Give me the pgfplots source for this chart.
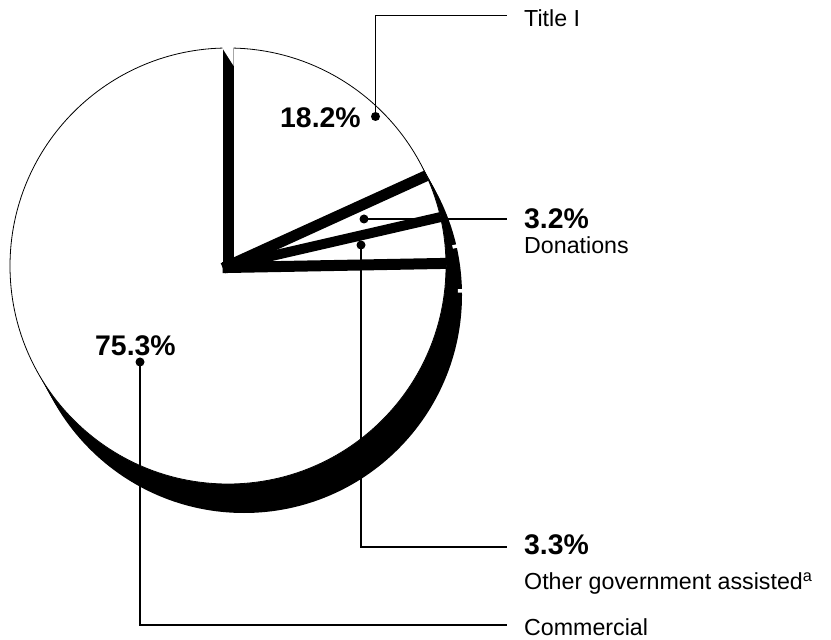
\documentclass[border=0pt]{standalone}
\usepackage{pgfplots}
\usepackage{pgfplotstable}
\pgfplotsset{compat=1.18}
\usepackage{fontspec}
\setmainfont{Liberation Sans}

% shares of the pie, clockwise from 12 o'clock
\pgfplotstableread[col sep=comma]{
label,value
Title I,18.2
Donations,3.2
Other government assisted,3.3
Commercial,75.3
}\piedata

\begin{document}
\begin{tikzpicture}
\pgfplotstablegetelem{0}{value}\of\piedata \let\vA\pgfplotsretval
\pgfplotstablegetelem{1}{value}\of\piedata \let\vB\pgfplotsretval
\pgfplotstablegetelem{2}{value}\of\piedata \let\vC\pgfplotsretval
\pgfplotstablegetelem{3}{value}\of\piedata \let\vD\pgfplotsretval
% slice boundaries in degrees
\pgfmathsetmacro\bA{90}
\pgfmathsetmacro\bB{\bA-3.6*\vA}
\pgfmathsetmacro\bC{\bB-3.6*\vB}
\pgfmathsetmacro\bD{\bC-3.6*\vC}
\def\cx{228}\def\cy{266}\def\rr{218}
\def\sx{244}\def\sy{295}% centre of the bottom face
\begin{axis}[
    scale only axis,
    width=831bp, height=640bp,
    xmin=0, xmax=831, ymin=0, ymax=640,
    y dir=reverse,
    hide axis,
    clip=false,
]
  \path (axis cs:0,0) rectangle (axis cs:831,640);
  % depth of the pie
  \pgfplotsinvokeforeach{0.2,0.4,0.6,0.8,1}{
    \fill[black] (axis cs:{\cx+16*#1},{\cy+29*#1}) circle[radius=\rr bp];
  }
  % small steps between the slice walls
  \draw[white, line width=3.5bp] (axis cs:{\sx+214*cos(\bC)},{\sy-214*sin(\bC)}) -- (axis cs:{\sx+232*cos(\bC)},{\sy-232*sin(\bC)});
  \draw[white, line width=3.5bp] (axis cs:{\sx+214*cos(\bD)},{\sy-214*sin(\bD)}) -- (axis cs:{\sx+232*cos(\bD)},{\sy-232*sin(\bD)});
  \fill[white] (axis cs:\cx,\cy) circle[radius=\rr bp];
  % slice separators
  \begin{scope}
    \clip (axis cs:\cx,\cy) circle[radius=\rr bp];
    \draw[line width=11bp, line cap=rect] (axis cs:\cx,\cy) -- (axis cs:{\cx+260*cos(\bA)},{\cy-260*sin(\bA)});
    \draw[line width=11bp, line cap=rect] (axis cs:\cx,\cy) -- (axis cs:{\cx+260*cos(\bB)},{\cy-260*sin(\bB)});
    \draw[line width=10bp, line cap=rect] (axis cs:\cx,\cy) -- (axis cs:{\cx+260*cos(\bC)},{\cy-260*sin(\bC)});
    \draw[line width=11bp, line cap=rect] (axis cs:\cx,{\cy+1.5}) -- (axis cs:{\cx+260*cos(\bD)},{\cy+1.5-260*sin(\bD)});
  \end{scope}
  \draw[line width=0.8bp] (axis cs:\cx,\cy) circle[radius=\rr bp];
  \fill[white] (axis cs:222.3,48) -- (axis cs:222.3,40) -- (axis cs:233.7,40) -- (axis cs:233.7,66) -- cycle;

  % leaders
  \draw[line width=1.1bp] (axis cs:375.5,116.5) -- (axis cs:375.5,15.5) -- (axis cs:507,15.5);
  \fill (axis cs:375.5,116.5) circle[radius=4.5bp];
  \draw[line width=1.1bp] (axis cs:364,219) -- (axis cs:507,219);
  \fill (axis cs:364,219) circle[radius=4.5bp];
  \draw[line width=1.1bp] (axis cs:361,245) -- (axis cs:361,547) -- (axis cs:507,547);
  \fill (axis cs:361,245) circle[radius=4.5bp];
  \draw[line width=1.1bp] (axis cs:140,362) -- (axis cs:140,625) -- (axis cs:507,625);
  \fill (axis cs:140,362) circle[radius=4.5bp];

  % labels
  \node[anchor=base west, inner sep=0, font=\fontsize{28.5}{30}\selectfont\bfseries] at (axis cs:280,127.5) {\vA\%};
  \node[anchor=base west, inner sep=0, font=\fontsize{28.5}{30}\selectfont\bfseries] at (axis cs:95,356) {\vD\%};
  \node[anchor=base west, inner sep=0, font=\fontsize{28.5}{30}\selectfont\bfseries] at (axis cs:524,229) {\vB\%};
  \node[anchor=base west, inner sep=0, font=\fontsize{28.5}{30}\selectfont\bfseries] at (axis cs:524,555) {\vC\%};
  \node[anchor=base west, inner sep=0, font=\fontsize{23.3}{25}\selectfont] at (axis cs:524,26.5) {Title I};
  \node[anchor=base west, inner sep=0, font=\fontsize{23.3}{25}\selectfont] at (axis cs:524,254) {Donations};
  \node[anchor=base west, inner sep=0, font=\fontsize{23.3}{25}\selectfont] at (axis cs:524,590) {Other government assisted\textsuperscript{a}};
  \node[anchor=base west, inner sep=0, font=\fontsize{23.3}{25}\selectfont] at (axis cs:524,636) {Commercial};
\end{axis}
\end{tikzpicture}
\end{document}
